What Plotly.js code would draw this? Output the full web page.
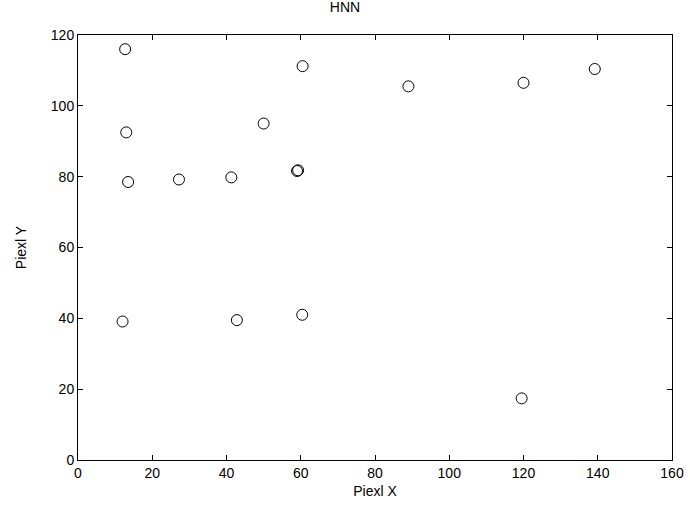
<!DOCTYPE html>
<html>
<head>
<meta charset="utf-8">
<script src="https://cdn.plot.ly/plotly-3.0.1.min.js"></script>
<style>html,body{margin:0;padding:0;background:#fff;}#plot{width:690px;height:507px;}</style>
</head>
<body>
<div id="plot"></div>
<script>
const pixelX = [12.7, 60.5, 89, 120, 139.2, 13, 50, 13.5, 27.2, 41.3, 59.0, 59.3, 12, 42.8, 60.4, 119.5];
const pixelY = [116, 111.2, 105.5, 106.5, 110.4, 92.5, 95, 78.5, 79.2, 79.8, 81.6, 81.8, 39.1, 39.5, 41, 17.4];
const xTicks = [0, 20, 40, 60, 80, 100, 120, 140, 160];
const yTicks = [0, 20, 40, 60, 80, 100, 120];

const fontFam = 'Liberation Sans, Arial, sans-serif';
Plotly.newPlot('plot', [{
  x: pixelX, y: pixelY, type: 'scatter', mode: 'markers',
  marker: {symbol: 'circle-open', size: 11, color: '#000', line: {width: 1, color: '#000'}},
  hoverinfo: 'none'
}], {
  width: 690, height: 507,
  margin: {l: 78, r: 18, t: 35, b: 47},
  paper_bgcolor: '#fff', plot_bgcolor: '#fff',
  showlegend: false,
  font: {family: fontFam, size: 14, color: '#000'},
  title: {text: 'HNN', font: {family: fontFam, size: 14, color: '#000'}, x: 0.5, xanchor: 'center', y: 0.995, yanchor: 'top'},
  xaxis: {
    range: [0, 160], tickvals: xTicks, ticktext: xTicks.map(String),
    showgrid: false, zeroline: false, showline: true, mirror: 'ticks',
    linecolor: '#000', linewidth: 1, ticks: 'inside', ticklen: 5, tickcolor: '#000',
    tickfont: {family: fontFam, size: 14, color: '#000'},
    title: {text: 'Piexl X', font: {family: fontFam, size: 14, color: '#000'}, standoff: 6}
  },
  yaxis: {
    range: [0, 120], tickvals: yTicks, ticktext: yTicks.map(String),
    showgrid: false, zeroline: false, showline: true, mirror: 'ticks',
    linecolor: '#000', linewidth: 1, ticks: 'inside', ticklen: 5, tickcolor: '#000',
    tickfont: {family: fontFam, size: 14, color: '#000'},
    title: {text: 'Piexl Y', font: {family: fontFam, size: 14, color: '#000'}, standoff: 20}
  }
}, {staticPlot: true});
</script>
</body>
</html>
